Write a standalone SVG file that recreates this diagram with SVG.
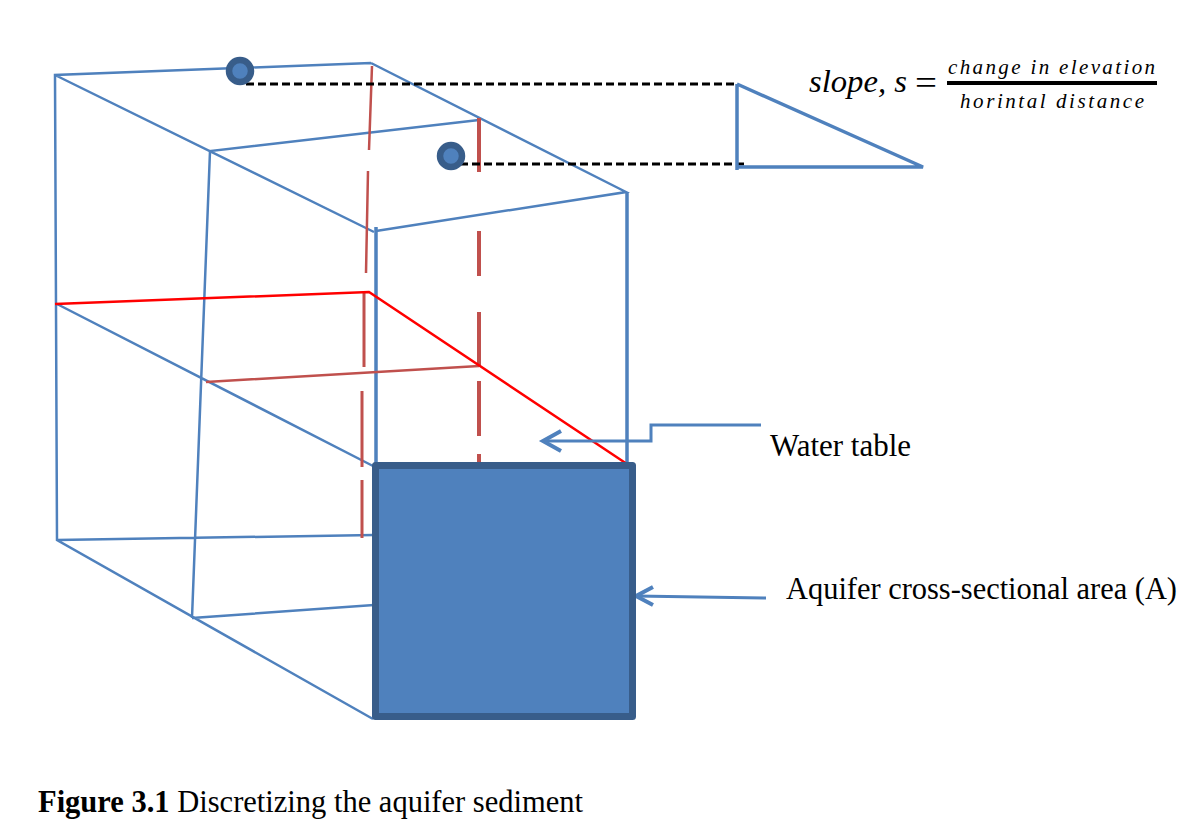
<svg xmlns="http://www.w3.org/2000/svg" width="1196" height="832" viewBox="0 0 1196 832">
<style>
.b{stroke:#4f81bd;stroke-width:2.500;fill:none}
.bt{stroke:#4f81bd;stroke-width:3.500;fill:none}
.a{stroke:#4f81bd;stroke-width:3;fill:none}
.ah{stroke:#4f81bd;stroke-width:4;fill:none}
.r{stroke:#f00;stroke-width:2.500;fill:none}
.d{stroke:#c0504d;stroke-width:2.500;fill:none}
.d3{stroke:#c0504d;stroke-width:3;fill:none}
.dt{stroke:#c0504d;stroke-width:4;fill:none}
.k{stroke:#000;stroke-width:3;stroke-dasharray:8 4;fill:none}
.dot{fill:#4f81bd;stroke:#385d8a;stroke-width:6.500}
text{font-family:"Liberation Serif",serif;fill:#000}
.m{font-style:italic}
</style>
<rect width="1196" height="832" fill="#fff"/>
<g id="connectors">
<path class="b" d="M371 63L55 75L57 540L373 719M55 75L374 232M371 63L626 192L376 231M479 120L210 151L192 618M57 304L373 466M57 540L374 535M192 618L374 605"/>
<path class="bt" d="M376 227V465M627 192V465"/>
<path class="d" d="M372 66L369 150M368 171L366 273M206 382L479 366"/>
<path class="dt" d="M479 118V172M479 231V276M479 312V366M479 381V436M479 454V466"/>
<path class="d3" d="M364 293V367M362 391V467M362 480V538"/>
<path class="r" d="M55 304L369 292L627 464"/>
<path class="k" d="M246 84H737M460 164H746"/>
<path class="bt" d="M737 84V170M737 167H923L737 84"/>
<path class="a" d="M761 425H651V441H543"/>
<path class="ah" d="M561 431L543 441L561 451"/>
<path class="a" d="M766 598L636 596"/>
<path class="ah" d="M653 587L636 596L653 605"/>
</g>
<g id="point-1"><circle class="dot" cx="240" cy="71" r="11"/></g>
<g id="point-2"><circle class="dot" cx="451" cy="156" r="11"/></g>
<g id="cross-section"><rect x="375.500" y="465.500" width="257" height="251" fill="#4f81bd" stroke="#385d8a" stroke-width="7" stroke-linejoin="round"/></g>
<g id="formula">
<text class="m" x="809" y="92" font-size="31" textLength="98" lengthAdjust="spacingAndGlyphs">slope, s</text>
<text x="915" y="94" font-size="34" textLength="22" lengthAdjust="spacingAndGlyphs">=</text>
<text class="m" x="948" y="74" font-size="21" textLength="207" lengthAdjust="spacing">change in elevation</text>
<rect x="947" y="81" width="210" height="4"/>
<text class="m" x="960" y="108" font-size="21" textLength="184" lengthAdjust="spacing">horintal distance</text>
</g>
<g id="water-table-label"><text x="770" y="456" font-size="31" textLength="141" lengthAdjust="spacingAndGlyphs">Water table</text></g>
<g id="area-label"><text x="786" y="599" font-size="31" textLength="391" lengthAdjust="spacingAndGlyphs">Aquifer cross-sectional area (A)</text></g>
<g id="caption"><text x="38" y="812" font-size="31" textLength="545" lengthAdjust="spacingAndGlyphs"><tspan font-weight="bold">Figure 3.1</tspan> Discretizing the aquifer sediment</text></g>
</svg>
